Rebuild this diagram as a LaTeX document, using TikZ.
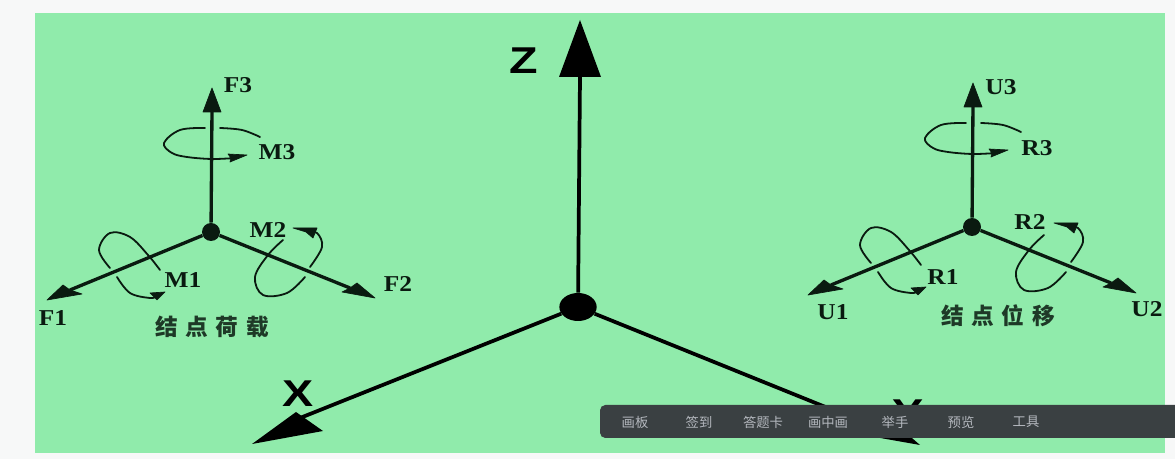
\documentclass[tikz,border=0pt]{standalone}
\usepackage{fontspec}
\usepackage{graphicx}
\usetikzlibrary{shapes.geometric}
\setmainfont{Liberation Serif}
\newfontfamily\bigsans{Liberation Sans}[BoldFont=* Bold]
\newfontfamily\cjklabel{Noto Sans CJK SC}[LetterSpace=34]
\newfontfamily\cjkbar{Noto Sans CJK SC}
\definecolor{pagebg}{HTML}{F7F8F8}
\definecolor{panel}{HTML}{90EBAB}
\definecolor{ink}{HTML}{0A1A10}
\definecolor{barbg}{HTML}{3A4042}
\definecolor{bartext}{HTML}{B4B8BE}
\tikzset{
  shaft/.style={draw=ink,line width=2.5pt},
  mainshaft/.style={draw=black,line width=2.8pt},
  head/.style={fill=ink,draw=ink,line width=.5pt,line join=round},
  mainhead/.style={fill=black},
  loopline/.style={draw=ink,line width=1.35pt,line cap=round,line join=round},
  hub/.style={circle,fill=ink,inner sep=0pt,minimum size=13.5pt},
  mainhub/.style={ellipse,fill=black,inner sep=0pt,minimum width=28pt,minimum height=21pt},
  vlabel/.style={font=\fontsize{17}{17}\selectfont\bfseries,text=ink,inner sep=0pt},
  cjktitle/.style={font=\fontsize{17}{17}\selectfont\cjklabel\bfseries,text=ink!85!panel,inner sep=0pt},
  bigletter/.style={font=\fontsize{28}{28}\selectfont\bigsans\bfseries,text=black,inner sep=0pt},
  toolbar/.style={fill=barbg,rounded corners=4pt,draw=none},
  barlabel/.style={font=\fontsize{10}{10}\selectfont\cjkbar,text=bartext,inner sep=0pt},
}
\newcommand{\widelabel}[1]{\scalebox{1.12}[1]{#1}}
\newcommand{\localaxes}{%
  \node[hub] (hub) at (211,232) {};
  \coordinate (up) at (212,110);
  \coordinate (left) at (70,290);
  \coordinate (right) at (350,288);
  \draw[shaft] (hub) -- (up);
  \draw[shaft] (hub) -- (left);
  \draw[shaft] (hub) -- (right);
  \fill[head] (212,88) -- (221,112) -- (203,112) -- cycle;
  \fill[head] (47,300) -- (63,285) -- (70,290) -- (82,294) -- cycle;
  \fill[head] (375,298) -- (357,283) -- (350,288) -- (342,292) -- cycle;
  % moment about the vertical axis
  \draw[loopline] plot[smooth,tension=.6] coordinates {(260,137) (242,130) (220,128)};
  \draw[loopline] plot[smooth,tension=.6] coordinates {(205,128) (180,130) (164,143) (172,153) (187,157) (212,159) (235,158)};
  \fill[head] (247,155) -- (228,154) -- (231,158) -- (230,162) -- cycle;
  % moment about the left axis
  \draw[loopline] plot[smooth,tension=.6] coordinates {(160,270) (148,255) (130,237) (110,233) (99,250) (110,268)};
  \draw[loopline] plot[smooth,tension=.6] coordinates {(117,277) (130,293) (150,298) (157,296)};
  \fill[head] (165,292) -- (150,293) -- (153,296) -- (157,300) -- cycle;
  % moment about the right axis
  \draw[loopline] plot[smooth,tension=.6] coordinates {(283,240) (268,255) (255,277) (263,295) (287,293) (305,277)};
  \draw[loopline] plot[smooth,tension=.6] coordinates {(310,267) (322,247) (317,233) (305,231)};
  \fill[head] (293,228) -- (317,228) -- (313,238) -- (306,232) -- cycle;
}
\begin{document}
\begin{tikzpicture}[x=0.75pt,y=-0.75pt]
\useasboundingbox (0,0) rectangle (1175,459);
\fill[pagebg] (0,0) rectangle (1175,459);
\fill[panel] (35,13) rectangle (1165,453);

% main axes
\node[mainhub] (mhub) at (578,307) {};
\coordinate (zbase) at (580,76);
\coordinate (xbase) at (295,420);
\coordinate (ybase) at (870,425);
\draw[mainshaft] (mhub) -- (zbase);
\draw[mainshaft] (mhub) -- (xbase);
\draw[mainshaft] (mhub) -- (ybase);
\fill[mainhead] (580,20) -- (601,77) -- (559,77) -- cycle;
\fill[mainhead] (252,444) -- (296,412) -- (323,431) -- cycle;
\fill[mainhead] (920,445) -- (882,412) -- (852,433) -- cycle;
\node[bigletter] (zlabel) at (524,61) {\scalebox{1.25}[1]{Z}};
\node[bigletter] (xlabel) at (298,394) {\scalebox{1.25}[1]{X}};
\node[bigletter] (ylabel) at (908,413) {\scalebox{1.25}[1]{Y}};

% left group: nodal loads
\begin{scope}[name prefix=load-]
  \localaxes
\end{scope}
\node[vlabel] (f3) at (238,85) {\widelabel{F3}};
\node[vlabel] (m3) at (277,152) {\widelabel{M3}};
\node[vlabel] (m1) at (183,280) {\widelabel{M1}};
\node[vlabel] (m2) at (268,230) {\widelabel{M2}};
\node[vlabel] (f2) at (398,284) {\widelabel{F2}};
\node[vlabel] (f1) at (53,318) {\widelabel{F1}};
\node[cjktitle] (ltitle) at (212,327) {结点荷载};

% right group: nodal displacements
\begin{scope}[shift={(761,-5)},name prefix=disp-]
  \localaxes
\end{scope}
\node[vlabel] (u3) at (1001,87) {\widelabel{U3}};
\node[vlabel] (r3) at (1037,148) {\widelabel{R3}};
\node[vlabel] (r1) at (943,277) {\widelabel{R1}};
\node[vlabel] (r2) at (1030,222) {\widelabel{R2}};
\node[vlabel] (u2) at (1147,309) {\widelabel{U2}};
\node[vlabel] (u1) at (833,312) {\widelabel{U1}};
\node[cjktitle] (rtitle) at (998,316) {结点位移};

% toolbar overlay
\fill[toolbar] (600,405) rectangle (1185,438);
\node[barlabel] (b1) at (635,422) {画板};
\node[barlabel] (b2) at (699,422) {签到};
\node[barlabel] (b3) at (763,422) {答题卡};
\node[barlabel] (b4) at (828,422) {画中画};
\node[barlabel] (b5) at (895,422) {举手};
\node[barlabel] (b6) at (961,422) {预览};
\node[barlabel] (b7) at (1026,422) {工具};
\end{tikzpicture}
\end{document}
